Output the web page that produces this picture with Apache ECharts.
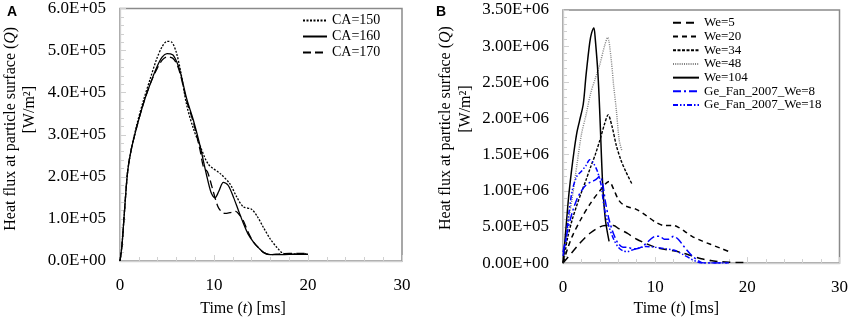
<!DOCTYPE html>
<html>
<head>
<meta charset="utf-8">
<script src="https://cdn.jsdelivr.net/npm/echarts@6/dist/echarts.min.js"></script>
<style>
  html, body { margin: 0; padding: 0; background: #fff; }
  #chart { width: 851px; height: 322px; }
</style>
</head>
<body>
<div id="chart"></div>
<script>
// panel A : contact angle, Q in units of 1e5 W/m2
const tCA150 = [0, 0.2, 0.45, 0.8, 1.15, 1.8, 2.5, 3.2, 3.9, 4.5, 5.0, 5.5, 6.0, 6.5, 7.1, 7.8, 8.5, 9.4, 10.7, 11.7, 12.4, 13.1, 14.0, 14.6, 15.3, 16.0, 16.7, 17.4, 18.2, 20];
const qCA150 = [0, 0.35, 1.1, 2.1, 2.6, 3.25, 3.82, 4.32, 4.8, 5.1, 5.22, 5.2, 4.95, 4.45, 3.7, 3.15, 2.75, 2.3, 2.07, 1.83, 1.53, 1.29, 1.23, 1.06, 0.78, 0.52, 0.32, 0.18, 0.17, 0.17];
const tCA160 = [0, 0.2, 0.45, 0.8, 1.15, 1.8, 2.5, 3.2, 3.9, 4.5, 5.0, 5.6, 6.0, 6.4, 7.1, 7.8, 8.5, 9.2, 9.7, 10.1, 10.5, 11.0, 11.5, 12.1, 12.6, 13.1, 13.6, 14.2, 14.8, 15.3, 16.0, 17, 18, 20];
const qCA160 = [0, 0.35, 1.1, 2.1, 2.6, 3.2, 3.75, 4.2, 4.6, 4.85, 4.93, 4.9, 4.75, 4.5, 3.85, 3.35, 2.75, 2.05, 1.62, 1.5, 1.65, 1.87, 1.8, 1.5, 1.2, 0.91, 0.65, 0.45, 0.3, 0.2, 0.15, 0.15, 0.16, 0.16];
const tCA170 = [0, 0.2, 0.45, 0.8, 1.15, 1.8, 2.5, 3.2, 3.9, 4.5, 5.0, 5.6, 6.0, 6.4, 7.1, 7.8, 8.5, 8.9, 9.3, 9.8, 10.4, 10.8, 11.2, 11.7, 12.3, 12.7, 13.1, 13.6, 14.2, 14.8, 15.3, 16.0, 17, 18, 20];
const qCA170 = [0, 0.35, 1.1, 2.1, 2.6, 3.2, 3.75, 4.2, 4.55, 4.78, 4.85, 4.82, 4.7, 4.45, 3.8, 3.3, 2.65, 2.22, 2.12, 1.75, 1.3, 1.17, 1.13, 1.15, 1.18, 1.1, 0.97, 0.7, 0.45, 0.3, 0.2, 0.15, 0.17, 0.18, 0.18];

// panel B : Weber number, Q in units of 1e6 W/m2
const tWe5 = [0, 1, 2, 3, 4, 4.6, 5.5, 6, 7, 8, 9, 10, 11, 12, 13, 14, 15, 16, 17, 18, 19, 20];
const qWe5 = [0, 0.15, 0.3, 0.42, 0.5, 0.52, 0.52, 0.48, 0.41, 0.33, 0.27, 0.22, 0.19, 0.17, 0.14, 0.1, 0.06, 0.035, 0.02, 0.012, 0.008, 0.008];
const tWe20 = [0, 0.5, 1, 2, 3, 4, 5, 5.5, 6, 6.5, 7, 8, 9, 10, 11, 12, 12.6, 13.2, 14, 15, 16, 17, 18];
const qWe20 = [0, 0.2, 0.37, 0.62, 0.83, 1.0, 1.13, 1.02, 0.88, 0.81, 0.78, 0.74, 0.66, 0.57, 0.52, 0.52, 0.49, 0.44, 0.37, 0.31, 0.26, 0.21, 0.16];
const tWe34 = [0, 0.5, 1, 1.5, 2, 2.5, 3, 3.5, 4, 4.5, 4.9, 5.3, 5.8, 6.3, 6.8, 7.5];
const qWe34 = [0, 0.35, 0.6, 0.8, 0.98, 1.15, 1.33, 1.5, 1.7, 1.92, 2.05, 1.9, 1.62, 1.42, 1.27, 1.09];
const tWe48 = [0, 0.5, 1, 1.5, 2, 2.5, 3, 3.5, 4, 4.5, 4.85, 5.2, 5.5, 5.8, 6.1, 6.4];
const qWe48 = [0, 0.5, 0.9, 1.35, 1.78, 2.05, 2.35, 2.55, 2.75, 3.0, 3.12, 2.85, 2.45, 2.1, 1.7, 1.55];
const tWe104 = [0, 0.3, 0.6, 0.9, 1.2, 1.5, 1.8, 2.2, 2.5, 2.9, 3.1, 3.35, 3.5, 3.8, 4.0, 4.3, 4.6, 5.0];
const qWe104 = [0, 0.45, 0.9, 1.25, 1.55, 1.8, 1.97, 2.2, 2.6, 3.05, 3.18, 3.25, 3.1, 2.6, 2.05, 1.1, 0.6, 0.3];
const tGe8 = [0, 0.5, 1, 1.5, 2, 2.5, 3, 3.5, 4, 4.3, 4.6, 5, 5.5, 6, 6.5, 7, 7.5, 8, 8.5, 9, 9.5, 10, 10.5, 11, 11.5, 12, 12.5, 13, 13.5, 14, 14.5, 15, 15.5, 16, 17, 18];
const qGe8 = [0.15, 0.45, 0.7, 0.88, 1.0, 1.08, 1.12, 1.15, 1.2, 1.1, 0.85, 0.6, 0.4, 0.27, 0.22, 0.22, 0.2, 0.2, 0.22, 0.27, 0.33, 0.37, 0.37, 0.33, 0.33, 0.37, 0.33, 0.25, 0.17, 0.1, 0.05, 0.01, 0, 0, 0, 0];
const tGe18 = [0, 0.3, 0.6, 1, 1.5, 2, 2.5, 2.9, 3.3, 3.7, 4.1, 4.5, 5, 5.5, 6, 6.5, 7, 7.5, 8, 9, 10, 11, 12, 13, 14, 14.5, 15, 16, 18];
const qGe18 = [0.1, 0.3, 0.65, 1.0, 1.2, 1.27, 1.35, 1.43, 1.38, 1.28, 1.1, 0.75, 0.5, 0.33, 0.22, 0.17, 0.16, 0.18, 0.2, 0.23, 0.22, 0.2, 0.18, 0.12, 0.05, 0.02, 0, 0, 0];

const xTicks = { min: 0, max: 30, interval: 10 };

const serif = "'Liberation Serif', 'Times New Roman', serif";
const axisGray = '#d0d0d0';

function pairs(t, q, unit) {
    return t.map((x, i) => [x, q[i] * unit]);
}
function sci(digits) {
    return function (v) {
        return v.toExponential(digits).replace('e+', 'E+0').replace('e-', 'E-0');
    };
}
function line(name, idx, t, q, unit, color, dash, width) {
    return {
        name: name,
        type: 'line',
        xAxisIndex: idx,
        yAxisIndex: idx,
        data: pairs(t, q, unit),
        symbol: 'none',
        smooth: 0.3,
        lineStyle: { color: color, type: dash, width: width || 1.4 },
        itemStyle: { color: color }
    };
}
function xAxisCfg(idx, gap, shift) {
    return {
        type: 'value', gridIndex: idx,
        min: xTicks.min, max: xTicks.max, interval: xTicks.interval,
        name: 'Time ({i|t}) [ms]',
        nameLocation: 'middle', nameGap: gap,
        nameTextStyle: {
            fontFamily: serif, fontSize: 16, color: '#000', padding: [0, shift, 0, 0],
            rich: { i: { fontFamily: serif, fontSize: 16, fontStyle: 'italic', color: '#000' } }
        },
        axisLine: { lineStyle: { color: axisGray, width: 1.3 } },
        axisTick: { inside: true, length: 6, lineStyle: { color: axisGray } },
        minorTick: { show: true, splitNumber: 5, length: 4, lineStyle: { color: axisGray } },
        splitLine: { show: false },
        axisLabel: { fontFamily: serif, fontSize: 17, color: '#000', margin: 16 }
    };
}
function yAxisCfg(idx, max, interval, digits, gap, lh, shift) {
    return {
        type: 'value', gridIndex: idx,
        min: 0, max: max, interval: interval,
        name: 'Heat flux at particle surface ({i|Q})\n{u|[W/m²]}',
        nameLocation: 'middle', nameGap: gap,
        nameTextStyle: {
            fontFamily: serif, fontSize: 16, color: '#000', lineHeight: lh, padding: [0, 0, 0, shift],
            rich: {
                i: { fontFamily: serif, fontSize: 16, fontStyle: 'italic', color: '#000', lineHeight: lh },
                u: { fontFamily: serif, fontSize: 16, color: '#000', lineHeight: lh, padding: [0, 0, 0, 38] }
            }
        },
        axisLine: { show: true, lineStyle: { color: axisGray, width: 1.3 } },
        axisTick: { show: true, inside: true, length: 6, lineStyle: { color: axisGray } },
        minorTick: { show: true, splitNumber: 5, length: 4, lineStyle: { color: axisGray } },
        splitLine: { show: false },
        axisLabel: { fontFamily: serif, fontSize: 17, color: '#000', margin: 14, formatter: sci(digits) }
    };
}

var chartDom = document.getElementById('chart');
var myChart = echarts.init(chartDom);
var option;

option = {
    animation: false,
    title: [
        { text: 'A', left: 2, top: 0, textStyle: { fontFamily: "'Liberation Sans', Arial", fontSize: 14, fontWeight: 'bold', color: '#000' } },
        { text: 'B', left: 431, top: 0, textStyle: { fontFamily: "'Liberation Sans', Arial", fontSize: 14, fontWeight: 'bold', color: '#000' } }
    ],
    grid: [
        { left: 119, top: 7.5, right: 449, bottom: 55, show: true, borderColor: '#8a8a8a', borderWidth: 1.5 },
        { left: 563, top: 10, right: 10, bottom: 53, show: true, borderColor: '#8a8a8a', borderWidth: 1.5 }
    ],
    legend: [
        {
            data: ['CA=150', 'CA=160', 'CA=170'],
            orient: 'vertical', left: 302, top: 13, padding: 0,
            itemWidth: 24, itemHeight: 10, itemGap: 1, itemTextGap: 2,
            itemStyle: { opacity: 0 },
            textStyle: { fontFamily: serif, fontSize: 14, color: '#000', lineHeight: 15 }
        },
        {
            data: ['We=5', 'We=20', 'We=34', 'We=48', 'We=104', 'Ge_Fan_2007_We=8', 'Ge_Fan_2007_We=18'],
            orient: 'vertical', left: 672, top: 16, padding: 0,
            itemWidth: 26, itemHeight: 10, itemGap: 0, itemTextGap: 1,
            itemStyle: { opacity: 0 },
            textStyle: { fontFamily: serif, fontSize: 13, color: '#000', lineHeight: 13.7 }
        }
    ],
    xAxis: [xAxisCfg(0, 40, 36), xAxisCfg(1, 29, 50)],
    yAxis: [yAxisCfg(0, 6e5, 1e5, 1, 81, 19, 12), yAxisCfg(1, 3.5e6, 5e5, 2, 87, 20, 17)],
    series: [
        line('CA=150', 0, tCA150, qCA150, 1e5, '#000', [2, 1.5], 1.3),
        line('CA=160', 0, tCA160, qCA160, 1e5, '#000', 'solid', 1.3),
        line('CA=170', 0, tCA170, qCA170, 1e5, '#000', [8, 4], 1.3),
        line('We=5', 1, tWe5, qWe5, 1e6, '#000', [8, 5], 1.5),
        line('We=20', 1, tWe20, qWe20, 1e6, '#000', [5, 4], 1.5),
        line('We=34', 1, tWe34, qWe34, 1e6, '#000', [3, 1.5], 1.4),
        line('We=48', 1, tWe48, qWe48, 1e6, '#808080', [1, 1.2], 1.4),
        line('We=104', 1, tWe104, qWe104, 1e6, '#000', 'solid', 1.5),
        line('Ge_Fan_2007_We=8', 1, tGe8, qGe8, 1e6, '#0000ff', [8, 3, 2, 3], 1.5),
        line('Ge_Fan_2007_We=18', 1, tGe18, qGe18, 1e6, '#0000ff', [5, 2, 1.5, 2, 1.5, 2], 1.5)
    ]
};

option && myChart.setOption(option);
</script>
</body>
</html>
